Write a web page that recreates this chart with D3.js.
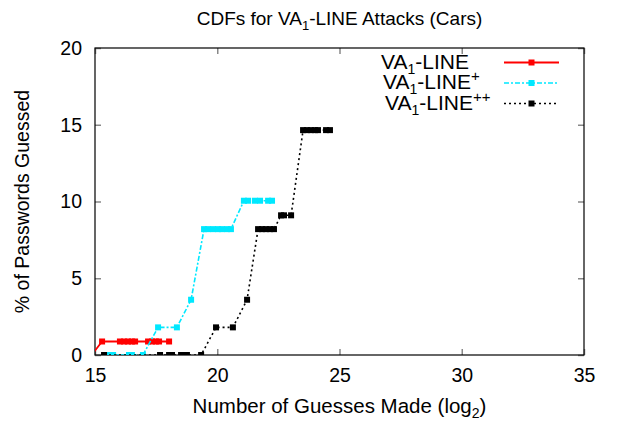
<!DOCTYPE html>
<html>
<head>
<meta charset="utf-8">
<script src="https://cdn.jsdelivr.net/npm/d3@7"></script>
<style>
  body { margin: 0; background: #fff; }
  text { font-family: "Liberation Sans", Arial, sans-serif; }
</style>
</head>
<body>
<div id="chart"></div>
<script>
// values
const xTicks = [15, 20, 25, 30, 35];
const yTicks = [0, 5, 10, 15, 20];

const seriesLine = [[14.86, 0], [15.29, 0.88], [16.02, 0.88], [16.19, 0.88], [16.35, 0.88], [16.51, 0.88],
  [16.64, 0.88], [17.17, 0.88], [17.33, 0.88], [17.49, 0.88], [17.62, 0.88], [18.03, 0.88]];

const seriesPlus = [[15.61, 0], [15.74, 0], [16.39, 0], [16.51, 0], [16.96, 0], [17.58, 1.8], [18.35, 1.8],
  [18.93, 3.6], [19.46, 8.2], [19.62, 8.2], [19.83, 8.2], [20.03, 8.2], [20.19, 8.2], [20.40, 8.2],
  [20.56, 8.2], [21.09, 10.05], [21.26, 10.05], [21.54, 10.05], [21.75, 10.05], [22.08, 10.05], [22.24, 10.05]];

const seriesPlusPlus = [[15.37, 0], [17.66, 0], [18.03, 0], [18.15, 0], [18.52, 0], [18.64, 0], [18.76, 0],
  [19.34, 0], [19.95, 1.8], [20.64, 1.8], [21.22, 3.6], [21.67, 8.2], [21.83, 8.2], [21.99, 8.2],
  [22.16, 8.2], [22.32, 8.2], [22.61, 9.1], [22.73, 9.1], [23.02, 9.1], [23.51, 14.65], [23.67, 14.65],
  [23.83, 14.65], [24.00, 14.65], [24.12, 14.65], [24.45, 14.65], [24.61, 14.65]];

const legendSup = ["", "+", "++"];

const margin = {top: 48, right: 34, bottom: 68, left: 95},
    width = 618 - margin.left - margin.right,
    height = 423 - margin.top - margin.bottom;

const svg = d3.select("#chart")
    .append("svg")
    .attr("width", 618)
    .attr("height", 423)
    .append("g")
    .attr("transform", `translate(${margin.left}, ${margin.top})`);

const x = d3.scaleLinear().domain([15, 35]).range([0, width]);
const y = d3.scaleLinear().domain([0, 20]).range([height, 0]);

svg.append("clipPath").attr("id", "clip")
    .append("rect").attr("width", width).attr("height", height);

// ticks on all four sides, pointing inwards
const tickLen = 6;
const tickStyle = g => g.selectAll("line").attr("stroke", "#888").attr("stroke-width", 1.5);

svg.append("g").attr("transform", `translate(0,${height})`)
    .call(d3.axisBottom(x).tickValues(xTicks).tickSize(-tickLen).tickPadding(tickLen + 7))
    .call(g => g.select(".domain").remove())
    .call(tickStyle)
    .selectAll("text").attr("font-size", 19.5).attr("fill", "#000")
    .attr("font-family", "Liberation Sans, Arial, sans-serif");

svg.append("g")
    .call(d3.axisTop(x).tickValues(xTicks).tickSize(-tickLen).tickFormat(""))
    .call(g => g.select(".domain").remove())
    .call(tickStyle);

svg.append("g")
    .call(d3.axisLeft(y).tickValues(yTicks).tickSize(-tickLen).tickPadding(tickLen + 7))
    .call(g => g.select(".domain").remove())
    .call(tickStyle)
    .selectAll("text").attr("font-size", 19.5).attr("fill", "#000")
    .attr("font-family", "Liberation Sans, Arial, sans-serif");

svg.append("g").attr("transform", `translate(${width},0)`)
    .call(d3.axisRight(y).tickValues(yTicks).tickSize(-tickLen).tickFormat(""))
    .call(g => g.select(".domain").remove())
    .call(tickStyle);

// border
svg.append("rect")
    .attr("width", width).attr("height", height)
    .attr("fill", "none").attr("stroke", "#000").attr("stroke-width", 1.2);

const series = [
  {data: seriesLine, color: "#ff0000", dash: null, w: 1.8},
  {data: seriesPlus, color: "#00e8ff", dash: "5,2,2,2", w: 1.6},
  {data: seriesPlusPlus, color: "#000", dash: "2,3", w: 1.6}
];

const line = d3.line().x(d => x(d[0])).y(d => y(d[1]));
const ms = 6;

const plot = svg.append("g").attr("clip-path", "url(#clip)");

series.forEach(s => {
  plot.append("path")
      .datum(s.data)
      .attr("fill", "none")
      .attr("stroke", s.color)
      .attr("stroke-width", s.w)
      .attr("stroke-dasharray", s.dash)
      .attr("d", line);
  plot.append("g").selectAll("rect")
      .data(s.data)
      .enter().append("rect")
      .attr("x", d => x(d[0]) - ms / 2)
      .attr("y", d => y(d[1]) - ms / 2)
      .attr("width", ms).attr("height", ms)
      .attr("fill", s.color);
});

// legend
const legend = svg.append("g");
series.forEach((s, i) => {
  const ly = 14.5 + i * 20.5;
  const t = legend.append("text")
      .attr("x", 286 + i * 2)
      .attr("y", ly + 6)
      .attr("font-size", 21)
      .attr("fill", "#000");
  t.append("tspan").text("VA");
  t.append("tspan").attr("font-size", 14).attr("dy", 5).text("1");
  t.append("tspan").attr("dy", -5).text("-LINE");
  if (legendSup[i]) t.append("tspan").attr("font-size", 15).attr("dy", -8).text(legendSup[i]);

  legend.append("line")
      .attr("x1", 409).attr("x2", 464)
      .attr("y1", ly).attr("y2", ly)
      .attr("stroke", s.color)
      .attr("stroke-width", s.w)
      .attr("stroke-dasharray", s.dash);
  legend.append("rect")
      .attr("x", 436.5 - ms / 2).attr("y", ly - ms / 2)
      .attr("width", ms).attr("height", ms)
      .attr("fill", s.color);
});

// title and axis labels
const title = svg.append("text")
    .attr("x", width / 2).attr("y", -23)
    .attr("text-anchor", "middle")
    .attr("font-size", 19);
title.append("tspan").text("CDFs for VA");
title.append("tspan").attr("font-size", 13).attr("dy", 5).text("1");
title.append("tspan").attr("dy", -5).text("-LINE Attacks (Cars)");

const xl = svg.append("text")
    .attr("x", width / 2).attr("y", height + 58)
    .attr("text-anchor", "middle")
    .attr("font-size", 20.5);
xl.append("tspan").text("Number of Guesses Made (log");
xl.append("tspan").attr("font-size", 14).attr("dy", 5).text("2");
xl.append("tspan").attr("dy", -5).text(")");

svg.append("text")
    .attr("transform", `translate(${-66},${height / 2}) rotate(-90)`)
    .attr("text-anchor", "middle")
    .attr("font-size", 19.5)
    .text("% of Passwords Guessed");
</script>
</body>
</html>
